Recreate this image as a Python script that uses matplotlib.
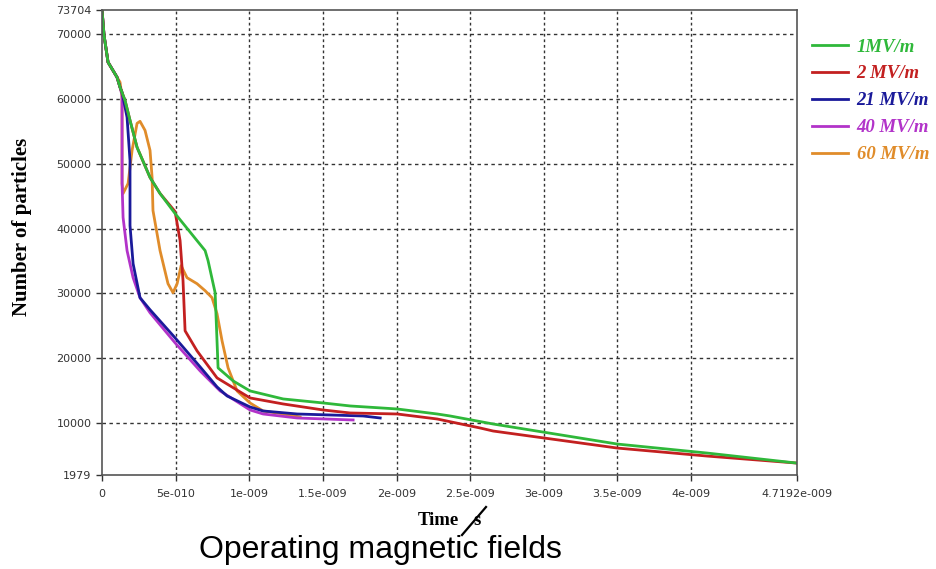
"""Particle count vs time for several operating fields."""

import matplotlib.pyplot as plt
from matplotlib.lines import Line2D
from matplotlib.ticker import FixedLocator

# time in ns, particle count
common_t = [0.0, 0.0136, 0.0408, 0.1019, 0.1223]
common_n = [73704, 69830, 65656, 63337, 61791]

green_t = common_t + [0.156, 0.190, 0.238, 0.326, 0.394, 0.496, 0.700, 0.720, 0.768, 0.788,
                      0.890, 1.005, 1.230, 1.501, 1.685, 2.004, 2.276, 2.364, 2.656, 3.499,
                      4.110, 4.7192]
green_n = common_n + [59781, 56689, 52515, 47877, 45403, 42311, 36591, 35045, 30098, 18503,
                      16493, 14947, 13710, 13092, 12628, 12164, 11391, 11082, 9845, 6753,
                      5362, 3816]

red_t = common_t + [0.156, 0.190, 0.238, 0.326, 0.394, 0.496, 0.530, 0.550, 0.564, 0.645,
                    0.781, 1.005, 1.230, 1.501, 1.685, 2.004, 2.276, 2.568, 2.656, 3.499,
                    4.110, 4.7192]
red_n = common_n + [59781, 56689, 52515, 47877, 45403, 42620, 38137, 31953, 24223, 21131,
                    16957, 13865, 12937, 12010, 11546, 11391, 10618, 9227, 8763, 6135,
                    4898, 3816]

blue_t = common_t + [0.136, 0.170, 0.190, 0.190, 0.211, 0.258, 0.326, 0.496, 0.666, 0.781,
                     0.849, 1.005, 1.094, 1.325, 1.773, 1.889]
blue_n = common_n + [61018, 57153, 50505, 40456, 34581, 29325, 27470, 23141, 18658, 15566,
                     14174, 12474, 11855, 11391, 11082, 10773]

purple_t = common_t + [0.136, 0.136, 0.143, 0.170, 0.211, 0.258, 0.326, 0.496, 0.666, 0.802,
                       1.005, 1.094, 1.325, 1.705]
purple_n = common_n + [60554, 46949, 41693, 36591, 32417, 29325, 27006, 22368, 18039, 14947,
                       12010, 11391, 10773, 10464]

orange_t = common_t[:4] + [0.1223, 0.136, 0.136, 0.143, 0.177, 0.204, 0.238, 0.258, 0.292,
                           0.326, 0.340, 0.346, 0.394, 0.448, 0.482, 0.510, 0.537, 0.577,
                           0.645, 0.700, 0.747, 0.781, 0.815, 0.856, 0.917, 1.005, 1.094,
                           1.230, 1.345]
orange_n = common_n[:4] + [62564, 60245, 46949, 45403, 46949, 52051, 56225, 56535, 55143,
                           52051, 47877, 42775, 36591, 31489, 30098, 31489, 34272, 32417,
                           31489, 30407, 29325, 26851, 22677, 18503, 14947, 13092, 11855,
                           11391, 10928]

series = [
    ("1MV/m", green_t, green_n, "#2fb83a"),
    ("2 MV/m", red_t, red_n, "#c32020"),
    ("21 MV/m", blue_t, blue_n, "#1a1a9a"),
    ("40 MV/m", purple_t, purple_n, "#b233c9"),
    ("60 MV/m", orange_t, orange_n, "#e08c2a"),
]

x_ticks = [0, 0.5, 1.0, 1.5, 2.0, 2.5, 3.0, 3.5, 4.0, 4.7192]
x_labels = ["0", "5e-010", "1e-009", "1.5e-009", "2e-009", "2.5e-009", "3e-009",
            "3.5e-009", "4e-009", "4.7192e-009"]
y_ticks = [1979, 10000, 20000, 30000, 40000, 50000, 60000, 70000, 73704]

fig = plt.figure(figsize=(9.36, 5.69), dpi=100)
ax = fig.add_axes([0.109, 0.1652, 0.7425, 0.8172])

# draw in reverse so green sits on top
for label, t, n, color in reversed(series):
    ax.plot([v * 1e-9 for v in t], n, color=color, lw=2.0, label=label,
            solid_joinstyle="round")

ax.set_xlim(0, 4.7192e-9)
ax.set_ylim(1979, 73704)
ax.xaxis.set_major_locator(FixedLocator([v * 1e-9 for v in x_ticks]))
ax.set_xticklabels(x_labels)
ax.yaxis.set_major_locator(FixedLocator(y_ticks))
ax.set_yticklabels([str(v) for v in y_ticks])
ax.tick_params(labelsize=8, colors="#333333", length=4, width=1)
ax.tick_params(axis="x", pad=6)

for v in x_ticks[1:-1]:
    ax.axvline(v * 1e-9, color="#333333", lw=1, ls=(0, (2, 2)), zorder=0)
for v in y_ticks[1:-1]:
    ax.axhline(v, color="#333333", lw=1, ls=(0, (2.5, 2.5)), zorder=0)

for side in ax.spines.values():
    side.set_color("#555555")
    side.set_linewidth(1.2)

handles = [Line2D([0], [0], color=c, lw=2.0) for _, _, _, c in series]
leg = fig.legend(handles, [s[0] for s in series], loc="upper left",
                 bbox_to_anchor=(0.850, 0.962), frameon=False, handlelength=1.87,
                 handletextpad=0.48, labelspacing=0.52,
                 prop={"family": "Liberation Serif", "weight": "bold", "style": "italic",
                       "size": 13.5})
for text, (_, _, _, c) in zip(leg.get_texts(), series):
    text.set_color(c)

fig.text(0.024, 0.601, "Number of particles", rotation=90, ha="center", va="center",
         family="Liberation Serif", weight="bold", fontsize=15)
fig.text(0.4465, 0.086, "Time", ha="left", va="center", family="Liberation Serif",
         weight="bold", fontsize=13.5)
fig.text(0.506, 0.086, "s", ha="left", va="center", family="Liberation Serif",
         weight="bold", fontsize=13.5)
fig.add_artist(Line2D([462 / 936, 486 / 936], [1 - 535 / 569, 1 - 507 / 569],
                      color="black", lw=1.6, transform=fig.transFigure))
fig.text(0.406, 0.033, "Operating magnetic fields", ha="center", va="center",
         family="Liberation Sans", fontsize=23)

fig.savefig("out.png", dpi=100)
